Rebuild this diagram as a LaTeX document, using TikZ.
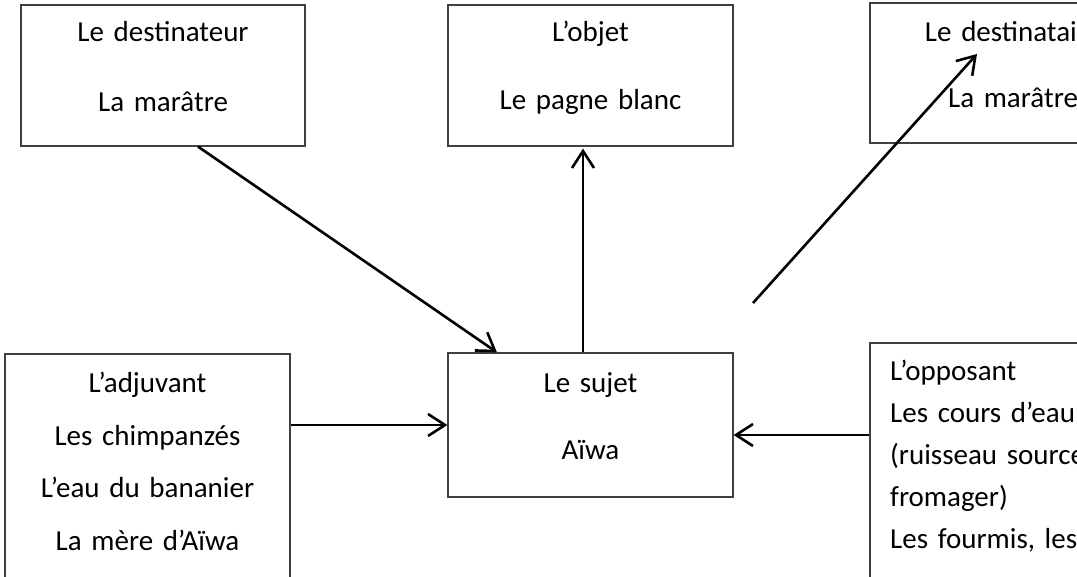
\documentclass[tikz,border=0pt]{standalone}
\usepackage{fontspec}
\setmainfont{Carlito}
\usetikzlibrary{arrows.meta}
\tikzset{
	every picture/.style={
		>={Straight Barb[length=17pt,width=22pt]},
		x=1pt,y=-1pt
}}
\tikzset{cadre/.style={rectangle,draw=black!75,line width=1.2pt,inner sep=0pt}}
\tikzset{texte/.style={inner sep=0pt,anchor=base,align=center,text width=270pt,
		font=\fontsize{29}{#1}\selectfont}}
\tikzset{fleche/.style={->,line width=2.6pt}}

\begin{document}
\begin{tikzpicture}
\useasboundingbox (0,0) rectangle (1077,577);
\clip (0,0) rectangle (1077,577);

%les cadres
\node[cadre,minimum width=284pt,minimum height=141pt] (dtr) at (163,75.5) {};
\node[cadre,minimum width=285pt,minimum height=141pt] (obj) at (590.5,75.5) {};
\node[cadre,minimum width=280pt,minimum height=140pt] (dta) at (1010,73) {};
\node[cadre,minimum width=285pt,minimum height=144pt] (suj) at (590.5,425) {};
\node[cadre,minimum width=285pt,minimum height=290pt] (adj) at (147.5,499) {};
\node[cadre,minimum width=280pt,minimum height=300pt] (opp) at (1010,493) {};

%les textes
\node[texte=70] (t-dtr) at (163,42) {Le destinateur\\La marâtre};
\node[texte=68] (t-obj) at (590.5,42) {L’objet\\Le pagne blanc};
\node[texte=66] (t-dta) at (1013,42) {Le destinataire\\La marâtre};
\node[texte=68] (t-suj) at (590.5,392) {Le sujet\\Aïwa};
\node[texte=53] (t-adj) at (147.5,392) {L’adjuvant\\Les chimpanzés\\L’eau du bananier\\La mère d’Aïwa};
\node[texte=42,align=left,text width=300pt,anchor=base west] (t-opp) at (890,381)
	{L’opposant\\Les cours d’eau\\(ruisseau source\\fromager)\\Les fourmis, les};

%les flèches
\draw[fleche] ([xshift=35pt]dtr.south) -- ([xshift=-93.5pt]suj.north);
\draw[fleche] ([xshift=-7.5pt]suj.north) -- ([xshift=-7.5pt,yshift=-2pt]obj.south);
\coordinate (dep) at (753,303);
\coordinate (arr) at (977,54);
\draw[fleche] (dep) -- (arr);
\draw[fleche] (adj.east |- suj.west) -- (suj.west);
\coordinate (s-opp) at ([yshift=-10pt]suj.east);
\draw[fleche] (s-opp -| opp.west) -- (s-opp);

\end{tikzpicture}
\end{document}
